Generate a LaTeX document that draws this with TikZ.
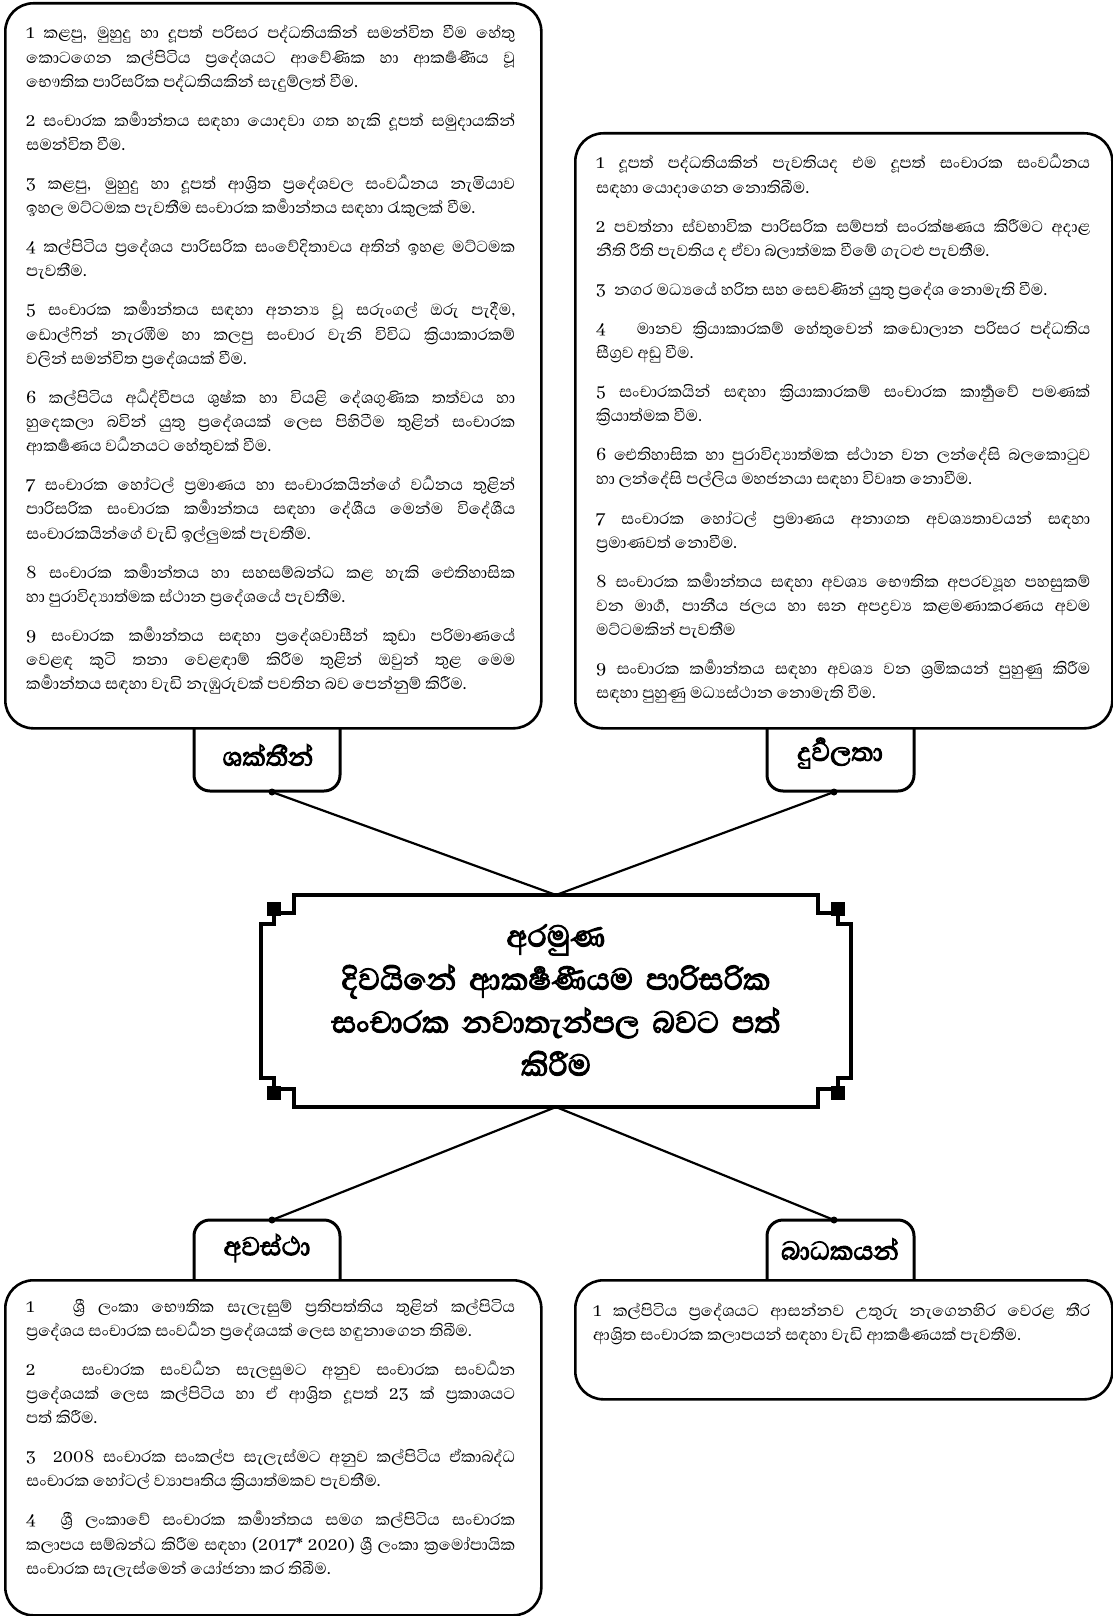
\documentclass[tikz,border=0pt]{standalone}
\usepackage{fontspec}
\setmainfont[Script=Sinhala]{Abhaya Libre}
\newfontfamily\headfont[Script=Sinhala, FakeBold=3]{Abhaya Libre}
\newcommand{\zj}{^^^^200d}
\newcommand{\nl}{\linebreak}
\newcommand{\listsetup}{\setlength{\parskip}{14.8pt}\lineskiplimit=-100pt\tolerance=10000\hbadness=10000\relax}
\begin{document}
\begin{tikzpicture}[x=1pt,y=-1pt,
  listbox/.style={draw, line width=2.6pt, rounded corners=28pt, anchor=north west, inner sep=0pt},
  tabline/.style={draw, line width=3pt, rounded corners=16pt},
  frame/.style={line width=3.6pt, line cap=rect, line join=miter},
  conn/.style={line width=2.2pt},
  dot/.style={circle, fill, inner sep=0pt, minimum size=7pt},
  listtext/.style={anchor=base west, inner sep=0pt, align=justify, font=\fontsize{20.6}{24.2}\selectfont},
  tablabel/.style={inner sep=0pt, font=\headfont\fontsize{33}{36}\selectfont},
  title/.style={inner sep=0pt, align=center, text width=580pt, font=\headfont\fontsize{38.5}{43}\selectfont}]
\useasboundingbox (0,0) rectangle (1113,1616);

% tabs
\draw[tabline] (194,727) -- (194,791) -- (340,791) -- (340,727);
\draw[tabline] (767,727) -- (767,791) -- (914,791) -- (914,727);
\draw[tabline] (194,1279) -- (194,1220) -- (340,1220) -- (340,1279);
\draw[tabline] (767,1279) -- (767,1220) -- (914,1220) -- (914,1279);

% list boxes
\node[listbox, minimum width=536pt, minimum height=725pt] (sbox) at (4,2) {};
\node[listbox, minimum width=537pt, minimum height=595pt] (wbox) at (574,132) {};
\node[listbox, minimum width=536pt, minimum height=335pt] (obox) at (4,1279) {};
\node[listbox, minimum width=537pt, minimum height=119pt] (tbox) at (574,1279) {};

% tab labels
\node[tablabel] (ls) at (268,755) {ශක්තීන්};
\node[tablabel] (lw) at (840,753) {දුර්\zj වලතා};
\node[tablabel] (lo) at (267,1248) {අවස්ථා};
\node[tablabel] (lt) at (840,1249) {බාධකයන්};

% centre frame
\foreach \sx/\sy in {1/1,-1/1,1/-1,-1/-1}{
  \begin{scope}[shift={(556,1001)}, xscale=\sx, yscale=\sy]
    \draw[frame] (0,-106) -- (-262,-106) -- (-262,-88) -- (-275,-88);
    \fill (-289,-99) rectangle (-275,-85);
    \draw[frame] (-282,-85) -- (-282,-77) -- (-295,-77) -- (-295,0);
  \end{scope}
}
\coordinate (ctop) at (556,895);
\coordinate (cbot) at (556,1107);
\node[title] (goal) at (556,1000) {අරමුණ\\ දිවයිනේ ආකර්\zj ෂණීයම පාරිසරික\\ සංචාරක නවාතැන්පල බවට පත්\\ කිරීම};

% connectors
\node[dot] (ds) at (272,792) {};
\node[dot] (dw) at (834,792) {};
\node[dot] (do) at (272,1220) {};
\node[dot] (dt) at (834,1220) {};
\draw[conn] (ds.center) -- (ctop) -- (dw.center);
\draw[conn] (do.center) -- (cbot) -- (dt.center);

% texts
\node[listtext, text width=489pt] (ts) at (26,39) {\listsetup
1 කළපු, මුහුදු හා දූපත් පරිසර පද්ධතියකින් සමන්විත වීම හේතු\nl කොටගෙන කල්පිටිය ප්\zj රදේශයට ආවේණික හා ආකර්\zj ෂණීය වූ\nl භෞතික පාරිසරික පද්ධතියකින් සැදුම්ලත් වීම.\par
2 සංචාරක කර්\zj මාන්තය සඳහා යොදවා ගත හැකි දූපත් සමුදායකින්\nl සමන්විත වීම.\par
3 කළපු, මුහුදු හා දූපත් ආශ්\zj රිත ප්\zj රදේශවල සංවර්\zj ධනය නැමියාව\nl ඉහල මට්ටමක පැවතීම සංචාරක කර්\zj මාන්තය සඳහා රැකුලක් වීම.\par
4 කල්පිටිය ප්\zj රදේශය පාරිසරික සංවේදිතාවය අතින් ඉහළ මට්ටමක\nl පැවතීම.\par
5 සංචාරක කර්\zj මාන්තය සඳහා අනන්\zj ය වූ සරුංගල් ඔරු පැදීම,\nl ඩොල්ෆින් නැරඹීම හා කලපු සංචාර වැනි විවිධ ක්\zj රියාකාරකම්\nl වලින් සමන්විත ප්\zj රදේශයක් වීම.\par
6 කල්පිටිය අර්\zj ධද්වීපය ශුෂ්ක හා වියළි දේශගුණික තත්වය හා\nl හුදෙකලා බවින් යුතු ප්\zj රදේශයක් ලෙස පිහිටීම තුළින් සංචාරක\nl ආකර්\zj ෂණය වර්\zj ධනයට හේතුවක් වීම.\par
7 සංචාරක හෝටල් ප්\zj රමාණය හා සංචාරකයින්ගේ වර්\zj ධනය තුළින්\nl පාරිසරික සංචාරක කර්\zj මාන්තය සඳහා දේශීය මෙන්ම විදේශීය\nl සංචාරකයින්ගේ වැඩි ඉල්ලුමක් පැවතීම.\par
8 සංචාරක කර්\zj මාන්තය හා සහසම්බන්ධ කළ හැකි ඓතිහාසික\nl හා පුරාවිද්\zj යාත්මක ස්ථාන ප්\zj රදේශයේ පැවතීම.\par
9 සංචාරක කර්\zj මාන්තය සඳහා ප්\zj රදේශවාසීන් කුඩා පරිමාණයේ\nl වෙළඳ කුටි තනා වෙළඳාම් කිරීම තුළින් ඔවුන් තුළ මෙම\nl කර්\zj මාන්තය සඳහා වැඩි නැඹුරුවක් පවතින බව පෙන්නුම් කිරීම.};

\node[listtext, text width=494pt] (tw) at (596,169) {\listsetup
1 දූපත් පද්ධතියකින් පැවතියද එම දූපත් සංචාරක සංවර්\zj ධනය\nl සඳහා යොදාගෙන නොතිබීම.\par
2 පවත්නා ස්වභාවික පාරිසරික සම්පත් සංරක්ෂණය කිරීමට අදාළ\nl නීති රීති පැවතිය ද ඒවා බලාත්මක වීමේ ගැටළු පැවතීම.\par
3\ \ නගර මධ්\zj යයේ හරිත සහ සෙවණින් යුතු ප්\zj රදේශ නොමැති වීම.\par
4\ \ \ මානව ක්\zj රියාකාරකම් හේතුවෙන් කඩොලාන පරිසර පද්ධතිය\nl සීග්\zj රව අඩු වීම.\par
5 සංචාරකයින් සඳහා ක්\zj රියාකාරකම් සංචාරක කාර්\zj තුවේ පමණක්\nl ක්\zj රියාත්මක වීම.\par
6 ඓතිහාසික හා පුරාවිද්\zj යාත්මක ස්ථාන වන ලන්දේසි බලකොටුව\nl හා ලන්දේසි පල්ලිය මහජනයා සඳහා විවෘත නොවීම.\par
7 සංචාරක හෝටල් ප්\zj රමාණය අනාගත අවශ්\zj යතාවයන් සඳහා\nl ප්\zj රමාණවත් නොවීම.\par
8 සංචාරක කර්\zj මාන්තය සඳහා අවශ්\zj ය භෞතික අපරව්\zj යූහ පහසුකම්\nl වන මාර්\zj ග, පානීය ජලය හා ඝන අපද්\zj රව්\zj ය කළමණාකරණය අවම\nl මට්ටමකින් පැවතීම\par
9 සංචාරක කර්\zj මාන්තය සඳහා අවශ්\zj ය වන ශ්\zj රමිකයන් පුහුණු කිරීම\nl සඳහා පුහුණු මධ්\zj යස්ථාන නොමැති වීම.};

\node[listtext, text width=489pt] (to) at (26,1312) {\listsetup
1\ \ \ ශ්\zj රී ලංකා භෞතික සැලැසුම් ප්\zj රතිපත්තිය තුළින් කල්පිටිය\nl ප්\zj රදේශය සංචාරක සංවර්\zj ධන ප්\zj රදේශයක් ලෙස හඳුනාගෙන තිබීම.\par
2\ \ \ සංචාරක සංවර්\zj ධන සැලසුමට අනුව සංචාරක සංවර්\zj ධන\nl ප්\zj රදේශයක් ලෙස කල්පිටිය හා ඒ ආශ්\zj රිත දූපත් 23 ක් ප්\zj රකාශයට\nl පත් කිරීම.\par
3\ \ 2008 සංචාරක සංකල්ප සැලැස්මට අනුව කල්පිටිය ඒකාබද්ධ\nl සංචාරක හෝටල් ව්\zj යාපෘතිය ක්\zj රියාත්මකව පැවතීම.\par
4\ \ ශ්\zj රී ලංකාවේ සංචාරක කර්\zj මාන්තය සමග කල්පිටිය සංචාරක\nl කලාපය සම්බන්ධ කිරීම සඳහා (2017* 2020) ශ්\zj රී ලංකා ක්\zj රමෝපායික\nl සංචාරක සැලැස්මෙන් යෝජනා කර තිබීම.};

\node[listtext, text width=497pt] (tt) at (593,1316) {\listsetup
1 කල්පිටිය ප්\zj රදේශයට ආසන්නව උතුරු නැගෙනහිර වෙරළ තීර\nl ආශ්\zj රිත සංචාරක කලාපයන් සඳහා වැඩි ආකර්\zj ෂණයක් පැවතීම.};
\end{tikzpicture}
\end{document}
